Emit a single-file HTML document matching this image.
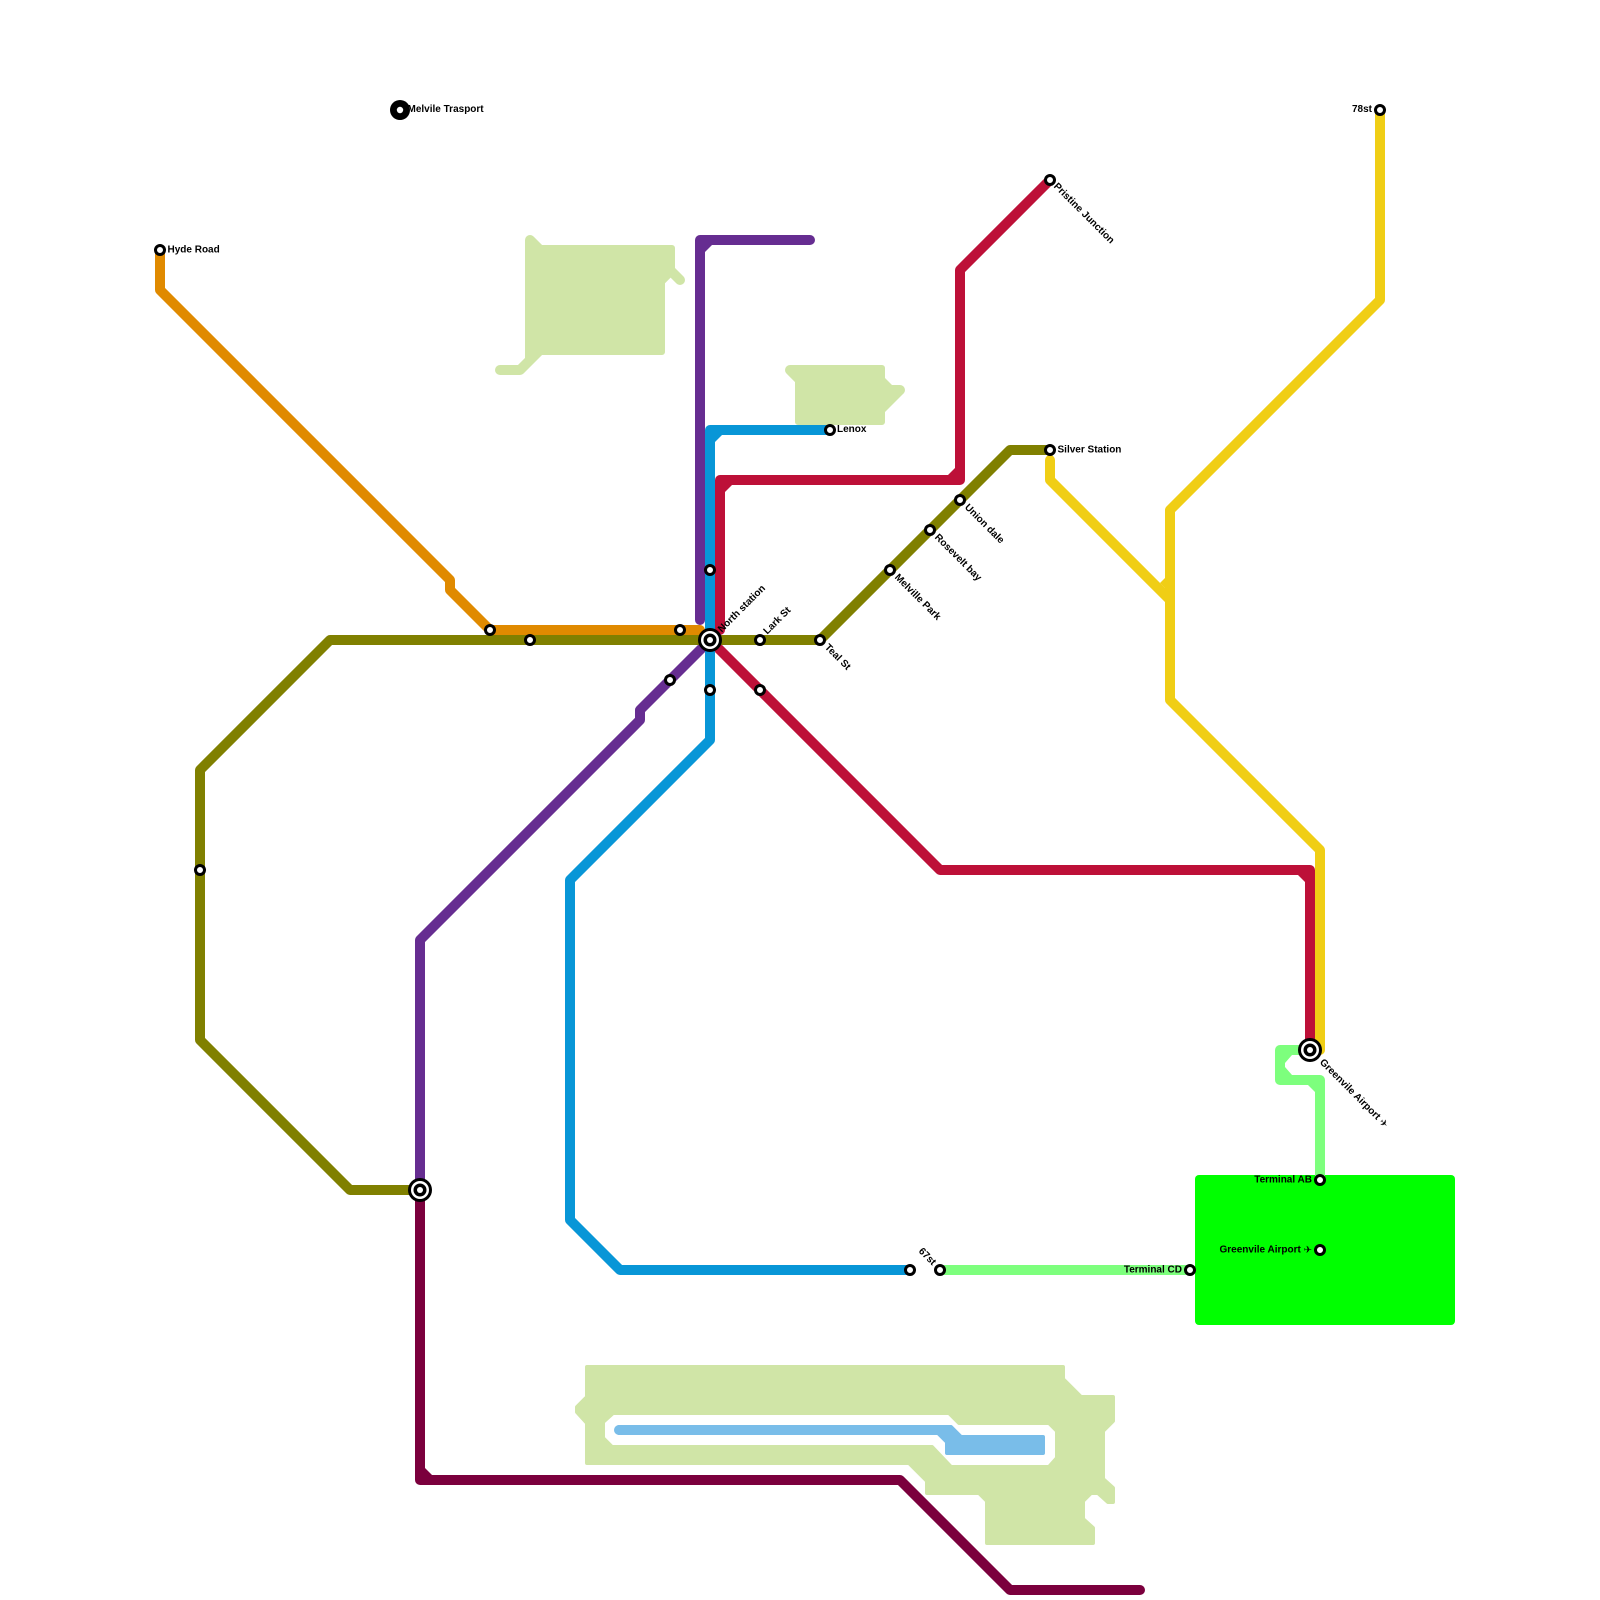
<!DOCTYPE html>
<html><head><meta charset="utf-8"><style>
html,body{margin:0;padding:0;background:#fff}
svg{display:block}
.l{fill:none;stroke-width:10;stroke-linejoin:round;stroke-linecap:round}
.a{fill:#d0e5a7;stroke:#d0e5a7;stroke-width:6;stroke-linejoin:round}
text{font-family:"Liberation Sans",sans-serif;font-weight:700;font-size:10px;fill:#000;dominant-baseline:central}
tspan{font-weight:400}
.s{fill:#fff;stroke:#000;stroke-width:3}
</style></head><body>
<svg width="1600" height="1600" viewBox="0 0 1600 1600" xmlns="http://www.w3.org/2000/svg">
<rect width="1600" height="1600" fill="#fff"/>
<!-- areas -->
<polygon class="a" points="528,248 672,248 672,272 662,282 662,352 528,352"/>
<polyline class="l" stroke="#d0e5a7" points="530,260 530,240 540,250"/>
<polyline class="l" stroke="#d0e5a7" points="670,270 680,280"/>
<polyline class="l" stroke="#d0e5a7" points="500,370 520,370 540,350"/>
<polygon fill="#d0e5a7" points="525,345 540,345 525,360"/>
<polygon class="a" points="798,368 882,368 882,422 798,422"/>
<polyline class="l" stroke="#d0e5a7" points="800,380 790,370 870,370"/>
<polygon fill="#d0e5a7" points="885,378 892,385 900,385 903.5,393.5 885,412"/>
<circle cx="900" cy="390" r="5" fill="#d0e5a7"/>
<path fill="#d0e5a7" fill-rule="evenodd" stroke="#d0e5a7" stroke-width="4" stroke-linejoin="round" d="M587,1367 L1063,1367 L1063,1379 L1081,1397 L1113,1397 L1113,1421 L1103,1431 L1103,1479 L1113,1488 L1113,1502 L1108,1502 L1098,1493 L1091,1493 L1083,1501 L1083,1519 L1093,1528 L1093,1543 L987,1543 L987,1501 L979,1493 L927,1493 L927,1481 L909,1463 L587,1463 L587,1423 L577,1412 L577,1407 L587,1397 Z M613,1413 L603,1422 L603,1438 L612,1447 L932,1447 L951,1467 L1049,1467 L1057,1458 L1057,1431 L1049,1423 L959,1423 L949,1413 Z"/>
<path fill="#79bde9" stroke="#79bde9" stroke-width="4" stroke-linejoin="round" d="M619,1427 L951,1427 L961,1437 L1043,1437 L1043,1453 L947,1453 L947,1442 L938,1433 L619,1433 Z"/>
<circle cx="619" cy="1430" r="5" fill="#79bde9"/>
<rect x="1195" y="1175" width="260" height="150" rx="4" fill="#00ff00"/>
<!-- lines -->
<polyline class="l" stroke="#e08a00" points="160,250 160,290 450,580 450,590 490,630 700,630"/>
<polyline class="l" stroke="#f0ce15" points="1380,110 1380,300 1170,510 1170,700 1320,850 1320,1050"/>
<polyline class="l" stroke="#f0ce15" points="1050,460 1050,480 1170,600"/>
<polygon fill="#f0ce15" points="1165,578 1165,588 1160,583"/>
<polyline class="l" stroke="#7dff7d" points="1320,1180 1320,1080 1280,1080 1280,1050 1310,1050"/>
<polygon fill="#7dff7d" points="1315,1085 1308,1085 1315,1092"/>
<polygon fill="#7dff7d" points="1285,1055 1292,1055 1285,1063"/>
<polygon fill="#7dff7d" points="1285,1075 1292,1075 1285,1067"/>
<polyline class="l" stroke="#7dff7d" points="940,1270 1190,1270"/>
<polyline class="l" stroke="#662d91" points="700,620 700,240 810,240"/>
<polygon fill="#662d91" points="705,245 712,245 705,252"/>
<polyline class="l" stroke="#662d91" points="420,1190 420,940 640,720 640,710 710,640"/>
<polyline class="l" stroke="#bd1038" points="720,630 720,480 960,480 960,270 1050,180"/>
<polygon fill="#bd1038" points="725,485 732,485 725,492"/>
<polygon fill="#bd1038" points="955,475 948,475 955,468"/>
<polyline class="l" stroke="#bd1038" points="710,640 940,870 1310,870 1310,1050"/>
<polygon fill="#bd1038" points="1305,875 1298,875 1305,882"/>
<polyline class="l" stroke="#808000" points="420,1190 350,1190 200,1040 200,770 330,640 820,640 1010,450 1050,450"/>
<polyline class="l" stroke="#0896d7" points="830,430 710,430 710,740 570,880 570,1220 620,1270 910,1270"/>
<polygon fill="#0896d7" points="715,435 722,435 715,442"/>
<polyline class="l" stroke="#7b003d" points="420,1190 420,1480 900,1480 1010,1590 1140,1590"/>
<polygon fill="#7b003d" points="425,1475 425,1468 432,1475"/>
<!-- stations -->
<g>
<circle class="s" cx="160" cy="250" r="4.5"/>
<circle class="s" cx="490" cy="630" r="4.5"/>
<circle class="s" cx="530" cy="640" r="4.5"/>
<circle class="s" cx="680" cy="630" r="4.5"/>
<circle class="s" cx="670" cy="680" r="4.5"/>
<circle class="s" cx="710" cy="570" r="4.5"/>
<circle class="s" cx="710" cy="690" r="4.5"/>
<circle class="s" cx="760" cy="640" r="4.5"/>
<circle class="s" cx="760" cy="690" r="4.5"/>
<circle class="s" cx="820" cy="640" r="4.5"/>
<circle class="s" cx="830" cy="430" r="4.5"/>
<circle class="s" cx="890" cy="570" r="4.5"/>
<circle class="s" cx="930" cy="530" r="4.5"/>
<circle class="s" cx="960" cy="500" r="4.5"/>
<circle class="s" cx="1050" cy="450" r="4.5"/>
<circle class="s" cx="1050" cy="180" r="4.5"/>
<circle class="s" cx="1380" cy="110" r="4.5"/>
<circle class="s" cx="200" cy="870" r="4.5"/>
<circle class="s" cx="910" cy="1270" r="4.5"/>
<circle class="s" cx="940" cy="1270" r="4.5"/>
<circle class="s" cx="1190" cy="1270" r="4.5"/>
<circle class="s" cx="1320" cy="1180" r="4.5"/>
<circle class="s" cx="1320" cy="1250" r="4.5"/>
</g>
<circle cx="400" cy="110" r="10" fill="#000"/><circle cx="400" cy="110" r="3.2" fill="#fff"/>
<g>
<circle cx="710" cy="640" r="12" fill="#000"/><circle cx="710" cy="640" r="9" fill="#fff"/><circle cx="710" cy="640" r="6.5" fill="#000"/><circle cx="710" cy="640" r="3" fill="#fff"/>
<circle cx="420" cy="1190" r="12" fill="#000"/><circle cx="420" cy="1190" r="9" fill="#fff"/><circle cx="420" cy="1190" r="6.5" fill="#000"/><circle cx="420" cy="1190" r="3" fill="#fff"/>
<circle cx="1310" cy="1050" r="12" fill="#000"/><circle cx="1310" cy="1050" r="9" fill="#fff"/><circle cx="1310" cy="1050" r="6.5" fill="#000"/><circle cx="1310" cy="1050" r="3" fill="#fff"/>
</g>
<!-- labels -->
<text x="167.5" y="250">Hyde Road</text>
<text x="407.5" y="109.5">Melvile Trasport</text>
<text x="1057.5" y="450">Silver Station</text>
<text x="837" y="429.5">Lenox</text>
<text x="1372" y="109.5" text-anchor="end">78st</text>
<text x="1182" y="1270" text-anchor="end">Terminal CD</text>
<text x="1312" y="1180" text-anchor="end">Terminal AB</text>
<text x="1312" y="1250" text-anchor="end">Greenvile Airport <tspan>✈</tspan></text>
<text transform="translate(1055,185) rotate(45)">Pristine Junction</text>
<text transform="translate(720,631) rotate(-45)">North station</text>
<text transform="translate(765.5,633) rotate(-45)">Lark St</text>
<text transform="translate(826,646) rotate(45)">Teal St</text>
<text transform="translate(896,576) rotate(45)">Melville Park</text>
<text transform="translate(936,536) rotate(45)">Rosevelt bay</text>
<text transform="translate(966,506) rotate(45)">Union dale</text>
<text transform="translate(934,1264) rotate(45)" text-anchor="end">67st</text>
<text transform="translate(1321,1061) rotate(45)">Greenvile Airport <tspan>✈</tspan></text>
</svg>
</body></html>
